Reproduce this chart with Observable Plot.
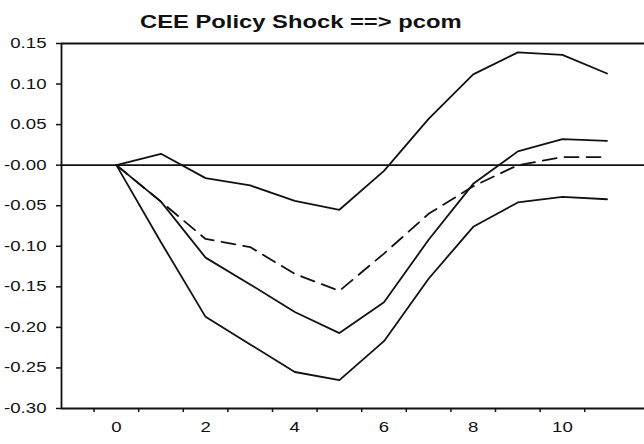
<!DOCTYPE html>
<html>
<head>
<meta charset="utf-8">
<script src="https://cdn.jsdelivr.net/npm/d3@7"></script>
<script src="https://cdn.jsdelivr.net/npm/@observablehq/plot@0.6"></script>
<style>
  body { margin: 0; background: #fff; }
  #wrap { position: relative; width: 644px; height: 444px; overflow: hidden; background: #fff; }
  #title { position: absolute; left: 140px; top: 12px; font: bold 18px "Liberation Sans", Arial, sans-serif;
           line-height: 20px; white-space: nowrap; transform: scaleX(1.32); transform-origin: 0 0; color: #111; }
  #chart { position: absolute; left: 0; top: 36px; }
</style>
</head>
<body>
<div id="wrap">
  <div id="title">CEE Policy Shock ==&gt; pcom</div>
  <div id="chart"></div>
</div>
<script>
// Horizon steps
const steps = [0, 1, 2, 3, 4, 5, 6, 7, 8, 9, 10, 11];
// Upper band (solid)
const upper  = [0, 0.014, -0.016, -0.025, -0.044, -0.055, -0.007, 0.057, 0.112, 0.139, 0.136, 0.113];
// Point estimate (solid)
const middle = [0, -0.045, -0.114, -0.147, -0.181, -0.207, -0.169, -0.092, -0.023, 0.017, 0.032, 0.030];
// Lower band (solid)
const lower  = [0, -0.095, -0.187, -0.221, -0.255, -0.265, -0.217, -0.140, -0.076, -0.046, -0.039, -0.042];
// Dashed line
const dashed = [0, -0.045, -0.091, -0.101, -0.134, -0.155, -0.109, -0.060, -0.026, 0.000, 0.010, 0.010];

// Axis ticks and labels
const xTickLabels = [0, 2, 4, 6, 8, 10];
const xTickMarks = [-0.5, 0.5, 1.5, 2.5, 3.5, 4.5, 5.5, 6.5, 7.5, 8.5, 9.5, 10.5];
const yTicks = [0.15, 0.10, 0.05, 0.00, -0.05, -0.10, -0.15, -0.20, -0.25, -0.30];
const yTickLabels = ["0.15", "0.10", "0.05", "-0.00", "-0.05", "-0.10", "-0.15", "-0.20", "-0.25", "-0.30"];
const xDomain = [-1.23, 11.84];
const yDomain = [-0.30, 0.15];

const ink = "#111";
const series = [
  {values: upper, dash: null},
  {values: middle, dash: null},
  {values: lower, dash: null},
  {values: dashed, dash: "14,8"}
];

const chart = Plot.plot({
  width: 644,
  height: 408,
  marginLeft: 61,
  marginRight: 0,
  marginTop: 7,
  marginBottom: 36,
  x: {domain: xDomain},
  y: {domain: yDomain},
  style: {fontFamily: '"Liberation Sans", Arial, sans-serif', color: ink, background: "#fff"},
  marks: [
    Plot.ruleY([yDomain[1]], {stroke: ink, strokeWidth: 1.8}),
    Plot.ruleY([yDomain[0]], {stroke: ink, strokeWidth: 1.8}),
    Plot.ruleX([xDomain[0]], {stroke: ink, strokeWidth: 1.8}),
    Plot.ruleY([0], {stroke: ink, strokeWidth: 1.8}),
    Plot.axisY({ticks: yTicks, tickSize: 5, tickPadding: 10, fontSize: 14,
                tickFormat: (d) => yTickLabels[yTicks.findIndex(t => Math.abs(t - d) < 1e-9)],
                label: null, stroke: ink, strokeWidth: 1.5}),
    Plot.axisX({ticks: xTickMarks, tickSize: 4, tickFormat: () => "", label: null, stroke: ink, strokeWidth: 1.5}),
    Plot.axisX({ticks: xTickLabels, tickSize: 0, tickPadding: 14, fontSize: 14, label: null, tickFormat: d => String(d)}),
    ...series.map(s => Plot.line(steps, {
      x: d => d,
      y: (d, i) => s.values[i],
      stroke: ink,
      strokeWidth: 1.8,
      strokeDasharray: s.dash,
      strokeLinejoin: "miter"
    }))
  ]
});

// Widen the tick-label glyphs horizontally like the scanned original
chart.querySelectorAll("g[aria-label$='tick label'] text").forEach(el => {
  const xa = el.getAttribute("x");
  let t = el.getAttribute("transform") || "";
  if (xa !== null) { t += ` translate(${xa},0)`; el.removeAttribute("x"); }
  el.setAttribute("transform", t + " scale(1.33,1)");
});

document.getElementById("chart").appendChild(chart);
</script>
</body>
</html>
